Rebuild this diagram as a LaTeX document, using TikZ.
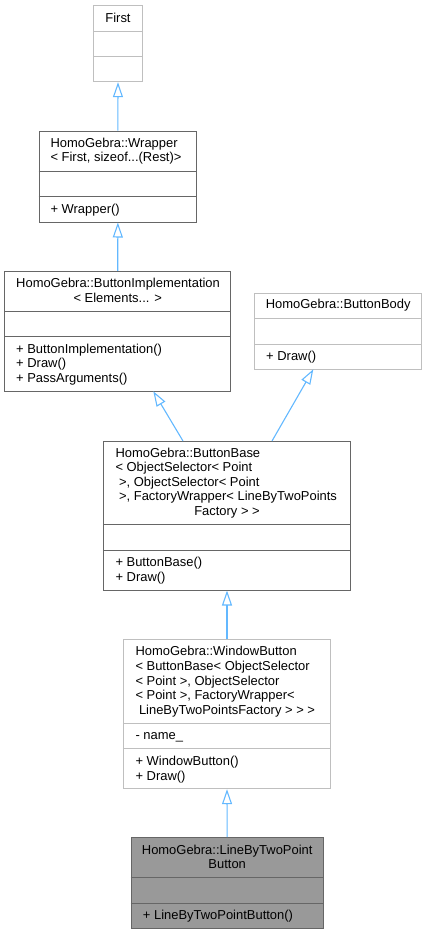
\documentclass[tikz,border=0pt]{standalone}
\usepackage{fontspec}
\setmainfont{Liberation Sans}
\usetikzlibrary{arrows.meta}
\definecolor{edgedark}{HTML}{666666}
\definecolor{edgelight}{HTML}{BFBFBF}
\definecolor{arrowblue}{HTML}{63B8FF}
\definecolor{selfill}{HTML}{999999}
\tikzset{
  boxdark/.style={draw=edgedark, line width=1pt, fill=white},
  boxlight/.style={draw=edgelight, line width=1pt, fill=white},
  boxsel/.style={draw=edgedark, line width=1pt, fill=selfill},
  txt/.style={inner sep=0pt, font=\fontsize{12.95}{14.6}\selectfont, anchor=base west},
  ctxt/.style={inner sep=0pt, font=\fontsize{12.95}{14.6}\selectfont, anchor=base},
  inh/.style={draw=arrowblue, line width=1.1pt, -{Triangle[open, length=15pt, width=10pt]}}
}
% name, x1, y1, x2, y2, divider1, divider2, style
\newcommand\umlbox[8]{%
  \node[#8, inner sep=0pt, minimum width={#4-#2}, minimum height={#5-#3}] (#1) at ({(#2+#4)/2},{(#3+#5)/2}) {};
  \draw[#8, fill=none] (#1.west |- 0,#6) -- (#1.east |- 0,#6);
  \draw[#8, fill=none] (#1.west |- 0,#7) -- (#1.east |- 0,#7);
}
\begin{document}
\begin{tikzpicture}[x=1pt, y=-1pt]
\useasboundingbox (0,0) rectangle (427,935);

% First
\umlbox{first}{93.7}{5.7}{142.3}{81.7}{31.3}{56.7}{boxlight}
\node[ctxt] (firstT) at (118,22.3) {First};

% Wrapper
\umlbox{wrap}{39}{131}{196.7}{222}{171.3}{196.7}{boxdark}
\node[txt] (wrapT1) at (50.3,147.5) {HomoGebra::Wrapper};
\node[txt] (wrapT2) at (50.3,161.8) {< First, sizeof...(Rest)>};
\node[txt] (wrapM1) at (50.3,213.5) {+ Wrapper()};

% ButtonImplementation
\umlbox{bimpl}{4.7}{271.3}{230.7}{391.3}{311}{336.7}{boxdark}
\node[txt] (bimplT1) at (16,287.5) {HomoGebra::ButtonImplementation};
\node[ctxt] (bimplT2) at (117.7,302.1) {< Elements... >};
\node[txt] (bimplM1) at (16,353.1) {+ ButtonImplementation()};
\node[txt] (bimplM2) at (16,367.6) {+ Draw()};
\node[txt] (bimplM3) at (16,382.3) {+ PassArguments()};

% ButtonBody
\umlbox{bbody}{254.7}{293}{421.7}{369.3}{318.7}{344.3}{boxlight}
\node[ctxt] (bbodyT) at (338.2,308.8) {HomoGebra::ButtonBody};
\node[txt] (bbodyM1) at (266,360.5) {+ Draw()};

% ButtonBase
\umlbox{bbase}{103.3}{441}{350.7}{590}{524.7}{550}{boxdark}
\node[txt] (bbaseT1) at (115.3,457.1) {HomoGebra::ButtonBase};
\node[txt] (bbaseT2) at (115.3,471.7) {< ObjectSelector< Point};
\node[txt] (bbaseT3) at (115.3,486.3) {\ >, ObjectSelector< Point};
\node[txt] (bbaseT4) at (115.3,500.9) {\ >, FactoryWrapper< LineByTwoPoints};
\node[ctxt] (bbaseT5) at (227,515.5) {Factory > >};
\node[txt] (bbaseM1) at (115.3,566.5) {+ ButtonBase()};
\node[txt] (bbaseM2) at (115.3,581.5) {+ Draw()};

% WindowButton
\umlbox{wbtn}{123.3}{639.3}{330.7}{788.7}{723.3}{748.7}{boxlight}
\node[txt] (wbtnT1) at (135.3,655.8) {HomoGebra::WindowButton};
\node[txt] (wbtnT2) at (135.3,670.4) {< ButtonBase< ObjectSelector};
\node[txt] (wbtnT3) at (135.3,685.0) {< Point >, ObjectSelector};
\node[txt] (wbtnT4) at (135.3,699.6) {< Point >, FactoryWrapper<};
\node[ctxt] (wbtnT5) at (227,714.2) {LineByTwoPointsFactory > > >};
\node[txt] (wbtnA1) at (135.3,739.8) {- name\_};
\node[txt] (wbtnM1) at (135.3,765.5) {+ WindowButton()};
\node[txt] (wbtnM2) at (135.3,780.1) {+ Draw()};

% LineByTwoPointButton
\umlbox{lbtp}{131}{837.7}{323.3}{928.3}{877.7}{903.3}{boxsel}
\node[ctxt] (lbtpT1) at (227.2,854.8) {HomoGebra::LineByTwoPoint};
\node[ctxt] (lbtpT2) at (227.2,868.8) {Button};
\node[txt] (lbtpM1) at (142.7,919.8) {+ LineByTwoPointButton()};

% connectors
\coordinate (bbaseL) at (183,441);
\coordinate (bimplH) at (153.3,391.3);
\coordinate (bbaseR) at (272,441);
\coordinate (bbodyH) at (313.3,369.3);

\draw[inh] (wrap.north) -- (first.south);
\draw[inh] (bimpl.north) -- (wrap.south);
\draw[inh] (bbaseL) -- (bimplH);
\draw[inh] (bbaseR) -- (bbodyH);
\draw[inh] (wbtn.north) -- (bbase.south);
\draw[inh] (lbtp.north) -- (wbtn.south);
\end{tikzpicture}
\end{document}
